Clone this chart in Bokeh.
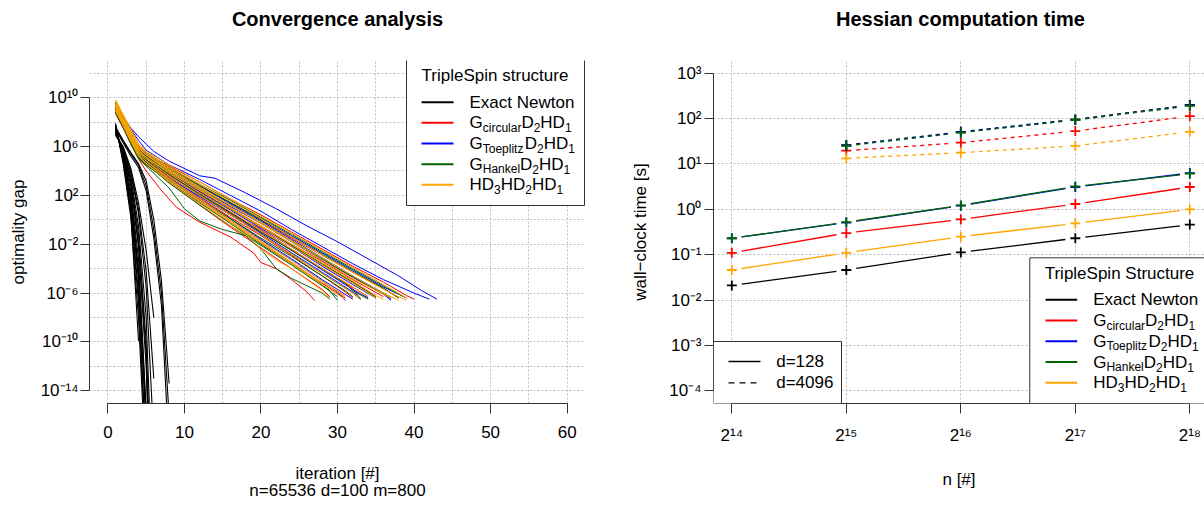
import math
from bokeh.plotting import figure
from bokeh.models import Range1d, FixedTicker, Label, BoxAnnotation, Arrow, CustomJSTickFormatter
from bokeh.layouts import row
from bokeh.embed import file_html
from bokeh.resources import INLINE

FONT = "Liberation Sans"
BLACK, RED, BLUE, GREEN, ORANGE = "#000000", "#FF0000", "#0000FF", "#006400", "#FFA500"

# ---------------- left panel data: (iteration, log10 optimality gap) ----------------
exact_runs = [
    [(1, 7.8), (2, 4.6), (3, 0.2), (4, -8.0), (5, -21.0)],
    [(1, 7.6), (2, 5.0), (3, 1.0), (4, -6.0), (5, -19.0)],
    [(1, 7.5), (2, 5.3), (3, 1.8), (4, -4.5), (5, -16.5)],
    [(1, 7.4), (2, 5.5), (3, 2.3), (4, -3.2), (5, -15.5)],
    [(1, 7.3), (2, 5.6), (3, 2.8), (4, -2.2), (5, -12.0), (6, -30.0)],
    [(1, 7.9), (2, 4.8), (3, 0.6), (4, -9.9)],
    [(1, 7.2), (2, 5.8), (3, 3.5), (4, -0.5), (5, -8.0), (6, -25.0)],
    [(1, 7.0), (2, 5.9), (3, 3.8), (4, 0.5), (5, -5.5), (6, -18.0)],
    [(1, 7.1), (2, 5.7), (3, 3.2), (4, -1.2), (5, -10.0), (6, -28.0)],
    [(1, 7.6), (2, 5.1), (3, 1.4), (4, -5.0), (5, -17.0)],
    [(1, 7.7), (2, 4.9), (3, 0.8), (4, -6.8), (5, -20.0)],
    [(1, 7.4), (2, 5.4), (3, 2.0), (4, -4.0), (5, -15.8)],
    [(1, 7.2), (2, 5.7), (3, 3.0), (4, -1.8), (5, -11.0), (6, -30.0)],
    [(1, 7.5), (2, 6.4), (3, 5.4), (4, 4.5), (5, 2.8), (6, -0.8), (7, -6.0), (8, -16.0)],
    [(1, 7.6), (2, 6.5), (3, 5.5), (4, 4.6), (5, 3.2), (6, 0.0), (7, -5.0), (8, -13.4)],
    [(1, 7.4), (2, 6.3), (3, 5.2), (4, 4.3), (5, 2.4), (6, -1.5), (7, -7.0), (8, -19.0)],
    [(1, 7.0), (2, 5.9), (3, 4.0), (4, 0.9), (5, -4.2), (6, -13.0)],
    [(1, 6.9), (2, 6.0), (3, 4.2), (4, 1.4), (5, -2.5), (6, -8.0)],
]
circ_runs = [
    [(1, 9.0), (2, 7.7), (3, 6.3), (4, 5.0), (5, 4.0), (7, 2.4), (9, 1.0), (12, -0.2), (16, -1.4), (19, -2.7), (20, -3.5), (22, -4.0), (24, -4.9), (26, -5.9), (27, -6.6)],
    [(1, 9.3), (2, 8.1), (3, 6.9), (4, 5.6), (5, 4.9), (8, 3.6), (12, 2.0), (16, 0.5), (20, -1.0), (24, -2.5), (28, -4.0), (32, -5.5), (34, -6.3)],
    [(1, 9.6), (2, 8.4), (3, 7.2), (4, 6.0), (5, 5.3), (8, 4.2), (12, 2.8), (16, 1.4), (20, 0.0), (24, -1.5), (28, -2.9), (32, -4.3), (36, -5.6), (38, -6.4)],
    [(1, 8.8), (2, 7.6), (3, 6.4), (4, 5.3), (5, 4.7), (8, 3.3), (12, 1.5), (16, -0.2), (20, -1.9), (24, -3.5), (28, -5.2), (31, -6.4)],
    [(1, 9.4), (2, 8.2), (3, 7.0), (4, 5.8), (5, 5.1), (8, 3.9), (12, 2.5), (16, 1.0), (20, -0.6), (24, -2.1), (28, -3.7), (32, -5.1), (35, -6.3)],
    [(1, 9.0), (2, 7.9), (3, 6.7), (4, 5.5), (5, 4.9), (8, 3.7), (12, 2.2), (16, 0.6), (20, -0.8), (24, -2.4), (28, -4.0), (32, -5.6), (33, -6.5)],
    [(1, 9.5), (2, 8.3), (3, 7.1), (4, 6.0), (5, 5.4), (8, 4.4), (12, 3.1), (16, 1.7), (20, 0.4), (24, -1.0), (28, -2.4), (32, -3.8), (36, -5.1), (39, -6.2), (40, -6.5)],
    [(1, 8.7), (2, 7.5), (3, 6.2), (4, 5.1), (5, 4.5), (8, 3.1), (12, 1.2), (16, -0.6), (20, -2.3), (24, -4.0), (28, -5.7), (29, -6.3)],
    [(1, 9.2), (2, 8.0), (3, 6.8), (4, 5.6), (5, 5.0), (8, 3.8), (12, 2.3), (16, 0.9), (20, -0.5), (24, -2.0), (28, -3.4), (32, -4.9), (36, -6.3)],
    [(1, 9.1), (2, 7.9), (3, 6.6), (4, 5.4), (5, 4.8), (8, 3.5), (12, 1.8), (16, 0.2), (20, -1.3), (24, -2.9), (28, -4.6), (31, -5.9), (32, -6.4)],
]
toep_runs = [
    [(1, 9.5), (2, 8.5), (3, 7.5), (4, 6.8), (5, 6.2), (6, 5.6), (8, 4.8), (12, 3.6), (14, 3.4), (18, 2.2), (22, 0.9), (26, -0.5), (30, -1.8), (34, -3.2), (38, -4.6), (41, -5.8), (43, -6.5)],
    [(1, 9.4), (2, 8.4), (3, 7.4), (4, 6.5), (5, 5.7), (8, 4.5), (12, 3.3), (16, 2.0), (20, 0.7), (24, -0.8), (28, -2.2), (32, -3.6), (36, -4.9), (40, -6.0), (42, -6.5)],
    [(1, 9.2), (2, 8.0), (3, 6.8), (4, 5.6), (5, 5.0), (8, 3.8), (12, 2.3), (16, 0.8), (20, -0.7), (24, -2.2), (28, -3.8), (32, -5.3), (35, -6.4)],
    [(1, 9.0), (2, 7.8), (3, 6.6), (4, 5.4), (5, 4.8), (8, 3.4), (12, 1.7), (16, 0.1), (20, -1.6), (24, -3.2), (28, -4.9), (31, -6.1), (32, -6.5)],
    [(1, 9.6), (2, 8.4), (3, 7.2), (4, 6.1), (5, 5.4), (8, 4.2), (12, 2.8), (16, 1.3), (20, -0.1), (24, -1.6), (28, -3.1), (32, -4.6), (36, -6.0), (37, -6.5)],
    [(1, 8.9), (2, 7.7), (3, 6.5), (4, 5.4), (5, 4.7), (8, 3.4), (12, 1.9), (16, 0.4), (20, -1.1), (24, -2.7), (28, -4.3), (32, -5.9), (33, -6.4)],
    [(1, 9.3), (2, 8.1), (3, 6.9), (4, 5.7), (5, 5.1), (8, 3.9), (12, 2.5), (16, 1.1), (20, -0.3), (24, -1.8), (28, -3.3), (32, -4.7), (36, -6.1), (37, -6.6)],
    [(1, 9.1), (2, 7.9), (3, 6.7), (4, 5.5), (5, 4.9), (8, 3.7), (12, 2.1), (16, 0.6), (20, -0.9), (24, -2.5), (28, -4.1), (32, -5.7), (34, -6.4)],
    [(1, 9.4), (2, 8.2), (3, 7.0), (4, 5.9), (5, 5.2), (8, 4.1), (12, 2.7), (16, 1.4), (20, 0.1), (24, -1.3), (28, -2.7), (32, -4.1), (36, -5.5), (39, -6.4)],
    [(1, 8.8), (2, 7.6), (3, 6.4), (4, 5.2), (5, 4.6), (8, 3.2), (12, 1.6), (16, 0.0), (20, -1.7), (24, -3.3), (28, -5.0), (30, -5.9), (31, -6.6)],
]
hank_runs = [
    [(1, 8.9), (2, 7.6), (3, 6.2), (4, 5.0), (5, 4.4), (8, 2.6), (10, 0.9), (12, -0.1), (15, -0.8), (18, -1.3), (20, -2.4), (22, -4.0), (24, -4.8), (26, -5.4), (28, -6.0), (29, -6.5)],
    [(1, 9.0), (2, 7.8), (3, 6.5), (4, 5.2), (5, 4.6), (8, 3.0), (12, 1.2), (16, -0.5), (20, -2.1), (24, -3.7), (28, -5.4), (30, -6.3)],
    [(1, 9.3), (2, 8.1), (3, 6.9), (4, 5.7), (5, 5.1), (8, 3.9), (12, 2.4), (16, 0.9), (20, -0.6), (24, -2.1), (28, -3.6), (32, -5.1), (35, -6.3)],
    [(1, 9.5), (2, 8.3), (3, 7.1), (4, 5.9), (5, 5.3), (8, 4.2), (12, 2.8), (16, 1.4), (20, 0.0), (24, -1.4), (28, -2.8), (32, -4.2), (36, -5.6), (38, -6.4)],
    [(1, 9.1), (2, 7.9), (3, 6.7), (4, 5.5), (5, 4.9), (8, 3.6), (12, 2.0), (16, 0.4), (20, -1.2), (24, -2.8), (28, -4.4), (32, -6.0), (33, -6.5)],
    [(1, 9.2), (2, 8.0), (3, 6.8), (4, 5.6), (5, 5.0), (8, 3.7), (12, 2.1), (16, 0.6), (20, -1.0), (24, -2.5), (28, -4.0), (31, -5.2), (32, -5.8), (34, -6.5)],
    [(1, 8.8), (2, 7.6), (3, 6.3), (4, 5.1), (5, 4.5), (8, 3.1), (12, 1.4), (16, -0.3), (20, -2.0), (24, -3.6), (28, -5.3), (29, -5.8), (30, -6.6)],
    [(1, 9.4), (2, 8.2), (3, 7.0), (4, 5.8), (5, 5.2), (8, 4.0), (12, 2.6), (16, 1.2), (20, -0.2), (24, -1.7), (28, -3.2), (32, -4.7), (36, -6.0), (37, -6.4)],
    [(1, 9.0), (2, 7.7), (3, 6.4), (4, 5.3), (5, 4.7), (8, 3.3), (12, 1.7), (16, 0.1), (20, -1.5), (24, -3.0), (28, -4.6), (31, -5.8), (32, -6.3)],
    [(1, 9.6), (2, 8.4), (3, 7.2), (4, 6.1), (5, 5.5), (8, 4.3), (12, 2.9), (16, 1.6), (20, 0.2), (24, -1.2), (28, -2.6), (32, -4.0), (36, -5.4), (39, -6.4)],
]
hd3_runs = [
    [(1, 9.8), (2, 8.6), (3, 7.3), (4, 6.1), (5, 5.4), (8, 4.2), (12, 2.7), (16, 1.2), (20, -0.3), (24, -1.8), (28, -3.3), (32, -4.8), (36, -6.1), (37, -6.4)],
    [(1, 9.6), (2, 8.5), (3, 7.2), (4, 6.0), (5, 5.3), (8, 4.0), (12, 2.5), (16, 1.0), (20, -0.5), (24, -2.0), (28, -3.5), (32, -5.0), (35, -6.2), (36, -6.5)],
    [(1, 9.4), (2, 8.2), (3, 7.0), (4, 5.8), (5, 5.1), (8, 3.8), (12, 2.2), (16, 0.7), (20, -0.9), (24, -2.4), (28, -4.0), (32, -5.5), (34, -6.3)],
    [(1, 9.2), (2, 8.0), (3, 6.7), (4, 5.5), (5, 4.8), (8, 3.4), (12, 1.7), (16, 0.0), (20, -1.7), (24, -3.3), (28, -5.0), (31, -6.3)],
    [(1, 9.7), (2, 8.5), (3, 7.3), (4, 6.2), (5, 5.6), (8, 4.5), (12, 3.1), (16, 1.7), (20, 0.3), (24, -1.1), (28, -2.5), (32, -3.9), (36, -5.3), (39, -6.4)],
    [(1, 9.0), (2, 7.8), (3, 6.5), (4, 5.3), (5, 4.6), (8, 3.1), (12, 1.3), (16, -0.5), (18, -1.2), (20, -2.4), (22, -3.3), (24, -4.0), (26, -4.9), (28, -5.8), (29, -6.4)],
    [(1, 9.5), (2, 8.3), (3, 7.1), (4, 5.9), (5, 5.3), (8, 4.1), (12, 2.6), (16, 1.2), (20, -0.2), (24, -1.7), (28, -3.1), (32, -4.6), (36, -6.0), (38, -6.6)],
    [(1, 9.3), (2, 8.1), (3, 6.8), (4, 5.6), (5, 5.0), (8, 3.6), (12, 2.0), (16, 0.4), (20, -1.2), (24, -2.8), (28, -4.4), (32, -6.0), (33, -6.4)],
    [(1, 9.1), (2, 7.9), (3, 6.6), (4, 5.4), (5, 4.8), (8, 3.3), (12, 1.6), (16, -0.1), (20, -1.8), (24, -3.5), (27, -4.8), (30, -5.8), (31, -6.2)],
    [(1, 9.8), (2, 8.6), (3, 7.4), (4, 6.2), (5, 5.5), (8, 4.3), (12, 2.9), (16, 1.5), (20, 0.1), (24, -1.4), (28, -2.9), (32, -4.3), (36, -5.7), (39, -6.6)],
    [(1, 9.4), (2, 8.2), (3, 6.9), (4, 5.7), (5, 5.1), (8, 3.9), (12, 2.4), (16, 0.9), (20, -0.6), (24, -2.2), (28, -3.7), (32, -5.2), (35, -6.4)],
    [(1, 8.9), (2, 7.7), (3, 6.4), (4, 5.2), (5, 4.6), (8, 3.2), (12, 1.5), (16, -0.2), (20, -1.9), (24, -3.6), (28, -5.3), (30, -6.1), (31, -6.5)],
]
left_x_ticks = [0, 10, 20, 30, 40, 50, 60]
left_y_exps = [10, 6, 2, -2, -6, -10, -14]

# ---------------- right panel data: wall-clock time [s] ----------------
n_d128 = [16384, 32768, 65536, 131072, 262144]
n_d4096 = [32768, 65536, 131072, 262144]
t128_exact = [0.021, 0.046, 0.112, 0.23, 0.46]
t128_circ = [0.11, 0.30, 0.60, 1.31, 3.1]
t128_toep = [0.23, 0.51, 1.20, 3.1, 6.3]
t128_hank = [0.23, 0.52, 1.22, 3.2, 6.1]
t128_hd3 = [0.046, 0.11, 0.25, 0.49, 1.0]
t4096_exact = [26.0, 51.0, 96.0, 200.0]
t4096_circ = [19.6, 29.4, 53.0, 113.0]
t4096_toep = [25.5, 50.0, 94.0, 195.0]
t4096_hank = [25.0, 49.0, 93.0, 190.0]
t4096_hd3 = [13.3, 17.7, 25.0, 51.0]
right_x_exps = [14, 15, 16, 17, 18]
right_y_exps = [3, 2, 1, 0, -1, -2, -3, -4]

# ---------------- helpers ----------------
AW = {'G': 778, 'D': 722, 'H': 722, 'c': 500, 'i': 222, 'r': 333, 'u': 556, 'l': 222, 'a': 556,
      'T': 611, 'o': 556, 'e': 556, 'p': 556, 't': 278, 'z': 500, 'n': 556, 'k': 500, ' ': 278}


def tw(s, size):
    return sum(AW.get(ch, 556) for ch in s) * size / 1000.0


def lab(p, x, y, text, size=17, align="left", bold=False, place=None):
    lbl = Label(x=x, y=y, x_units="canvas", y_units="canvas", text=text, text_font=FONT,
                text_font_size=f"{size}px", text_font_style="bold" if bold else "normal",
                text_align=align, text_baseline="middle", text_color="black")
    if place is None:
        p.add_layout(lbl)
    else:
        p.add_layout(lbl, place)


def pieces(p, x, y, parts):
    cx = x
    for txt, sub in parts:
        size = 12 if sub else 17
        lab(p, cx, y + (5 if sub else 0), txt, size=size)
        cx += tw(txt, size)


def seg(p, x0, y0, x1, y1, color, width=2.0, dash="solid"):
    p.add_layout(Arrow(x_start=x0, y_start=y0, x_end=x1, y_end=y1, start_units="canvas",
                       end_units="canvas", start=None, end=None, line_color=color,
                       line_width=width, line_dash=dash))


def box(p, left, right, top, bottom):
    p.add_layout(BoxAnnotation(left=left, right=right, top=top, bottom=bottom,
                               left_units="canvas", right_units="canvas", top_units="canvas",
                               bottom_units="canvas", fill_color="white", fill_alpha=1.0,
                               line_color="#333333", line_width=1, line_alpha=1.0))


SUP = ("const sup = {'0':'\u2070','1':'\u00b9','2':'\u00b2','3':'\u00b3','4':'\u2074',"
       "'5':'\u2075','6':'\u2076','7':'\u2077','8':'\u2078','9':'\u2079','-':'\u207b'};")
FMT10 = CustomJSTickFormatter(code=SUP + "const e = Math.round(Math.log10(tick));"
                              "return '10' + String(e).split('').map(c => sup[c]).join('');")
FMT2 = CustomJSTickFormatter(code=SUP + "const e = Math.round(Math.log2(tick));"
                             "return '2' + String(e).split('').map(c => sup[c]).join('');")


def style(p, xlabel, ylabel, xstand, ystand, ylab_stand, xlab_stand):
    p.outline_line_color = None
    for ax, tl, st, lab_st, text in ((p.xaxis[0], 10, xstand, xlab_stand, xlabel),
                                     (p.yaxis[0], 9, ystand, ylab_stand, ylabel)):
        ax.axis_line_color = "#333333"
        ax.major_tick_line_color = "#333333"
        ax.minor_tick_line_color = None
        ax.major_tick_in = 0
        ax.major_tick_out = tl
        ax.minor_tick_in = 0
        ax.minor_tick_out = 0
        ax.major_label_text_font = FONT
        ax.major_label_text_font_size = "17px"
        ax.major_label_text_color = "black"
        ax.major_label_standoff = st
        ax.axis_label = text
        ax.axis_label_text_font = FONT
        ax.axis_label_text_font_size = "17px"
        ax.axis_label_text_font_style = "normal"
        ax.axis_label_text_color = "black"
        ax.axis_label_standoff = lab_st
    for g in (p.xgrid[0], p.ygrid[0]):
        g.grid_line_color = "#bdbdbd"
        g.grid_line_dash = "2 2"
        g.grid_line_width = 1


method_parts = [
    [("Exact Newton", False)],
    [("G", False), ("circular", True), ("D", False), ("2", True), ("HD", False), ("1", True)],
    [("G", False), ("Toeplitz", True), ("D", False), ("2", True), ("HD", False), ("1", True)],
    [("G", False), ("Hankel", True), ("D", False), ("2", True), ("HD", False), ("1", True)],
    [("HD", False), ("3", True), ("HD", False), ("2", True), ("HD", False), ("1", True)],
]
method_colors = [BLACK, RED, BLUE, GREEN, ORANGE]

# ---------------- left figure ----------------
pl = figure(width=600, height=506, title=None, x_range=Range1d(-2.4, 62.4),
            y_range=Range1d(10 ** -15.04, 10 ** 13.04), y_axis_type="log",
            output_backend="svg", toolbar_location=None,
            min_border_left=89, min_border_right=15, min_border_top=60, min_border_bottom=103,
            background_fill_color="white", border_fill_color="white")
style(pl, "iteration [#]", "optimality gap", 12, 2, 10, 23)
pl.xaxis.ticker = FixedTicker(ticks=left_x_ticks)
pl.xaxis.bounds = (left_x_ticks[0], left_x_ticks[-1])
pl.yaxis.ticker = FixedTicker(ticks=[10.0 ** k for k in left_y_exps])
pl.yaxis.bounds = (10.0 ** min(left_y_exps), 10.0 ** max(left_y_exps))
pl.yaxis.formatter = FMT10
pl.xgrid.ticker = FixedTicker(ticks=list(range(0, 61, 5)))
pl.ygrid.ticker = FixedTicker(ticks=[10.0 ** k for k in range(-14, 13, 2)])

for runs, col, w in [(exact_runs, BLACK, 1.1), (circ_runs, RED, 1.0), (toep_runs, BLUE, 1.0),
                     (hank_runs, GREEN, 1.0), (hd3_runs, ORANGE, 1.0)]:
    xs = [[it for it, _ in r] for r in runs]
    ys = [[10.0 ** lg for _, lg in r] for r in runs]
    pl.multi_line(xs, ys, line_color=col, line_width=w)

lab(pl, 337, 18, "Convergence analysis", size=20, align="center", bold=True, place="above")
lab(pl, 337, 490, "n=65536 d=100 m=800", align="center", place="below")

box(pl, 406, 584, 59, 205)
lab(pl, 494.5, 75, "TripleSpin structure", align="center")
for i, (parts, col) in enumerate(zip(method_parts, method_colors)):
    yy = 101.7 + i * 20.65
    seg(pl, 421, yy, 453, yy, col, 2.0)
    pieces(pl, 469, yy, parts)

# ---------------- right figure ----------------
FW, FH = 491, 344
RX0 = 13.84
RX1 = RX0 + FW / 114.5
RY0, RY1 = -4.28, 3.28
pr = figure(width=604, height=506, title=None, x_range=Range1d(2 ** RX0, 2 ** RX1),
            y_range=Range1d(10 ** RY0, 10 ** RY1), x_axis_type="log", y_axis_type="log",
            output_backend="svg", toolbar_location=None,
            min_border_left=113, min_border_right=0, min_border_top=59, min_border_bottom=103,
            background_fill_color="white", border_fill_color="white")
style(pr, "n [#]", "wall\u2212clock time [s]", 12, 3, 16, 22)
pr.xaxis.ticker = FixedTicker(ticks=[2.0 ** k for k in right_x_exps])
pr.xaxis.bounds = (2.0 ** min(right_x_exps), 2.0 ** max(right_x_exps))
pr.xaxis.formatter = FMT2
pr.yaxis.ticker = FixedTicker(ticks=[10.0 ** k for k in right_y_exps])
pr.yaxis.bounds = (10.0 ** min(right_y_exps), 10.0 ** max(right_y_exps))
pr.yaxis.formatter = FMT10
pr.xgrid.ticker = FixedTicker(ticks=[2.0 ** k for k in right_x_exps])
pr.ygrid.ticker = FixedTicker(ticks=[10.0 ** k for k in right_y_exps])

SX = FW / (RX1 - RX0)
SY = FH / (RY1 - RY0)
GAP = 10.0


def gapped(p, ns, ts, color, dash):
    x0, y0, x1, y1 = [], [], [], []
    for i in range(len(ns) - 1):
        ax, ay = math.log2(ns[i]) * SX, math.log10(ts[i]) * SY
        bx, by = math.log2(ns[i + 1]) * SX, math.log10(ts[i + 1]) * SY
        f = GAP / math.hypot(bx - ax, by - ay)
        x0.append(2 ** ((ax + (bx - ax) * f) / SX))
        y0.append(10 ** ((ay + (by - ay) * f) / SY))
        x1.append(2 ** ((bx - (bx - ax) * f) / SX))
        y1.append(10 ** ((by - (by - ay) * f) / SY))
    p.segment(x0=x0, y0=y0, x1=x1, y1=y1, line_color=color, line_width=1.3, line_dash=dash)
    p.scatter(ns, ts, marker="cross", size=10, line_color=color, line_width=1.8)


for ts, col in [(t128_exact, BLACK), (t128_circ, RED), (t128_toep, BLUE), (t128_hank, GREEN),
                (t128_hd3, ORANGE)]:
    gapped(pr, n_d128, ts, col, "solid")
for ts, col in [(t4096_exact, BLACK), (t4096_circ, RED), (t4096_toep, BLUE), (t4096_hank, GREEN),
                (t4096_hd3, ORANGE)]:
    gapped(pr, n_d4096, ts, col, "4 4")

lab(pr, 360, 18, "Hessian computation time", size=20, align="center", bold=True, place="above")

# d legend (bottom left)
box(pr, 113, 241, 341, 403)
seg(pr, 128, 361, 160, 361, BLACK, 1.3)
seg(pr, 128, 382.3, 160, 382.3, BLACK, 1.3, "6 5")
lab(pr, 175.7, 361, "d=128")
lab(pr, 175.7, 382.3, "d=4096")

# structure legend (bottom right)
box(pr, 429.3, 612, 257.3, 403)
lab(pr, 519, 272.7, "TripleSpin Structure", align="center")
for i, (parts, col) in enumerate(zip(method_parts, method_colors)):
    yy = 299.3 + i * 20.75
    seg(pr, 445, yy, 476.7, yy, col, 2.0)
    pieces(pr, 492.7, yy, parts)

layout = row(pl, pr)
open("out.html", "w").write(file_html(layout, INLINE))
